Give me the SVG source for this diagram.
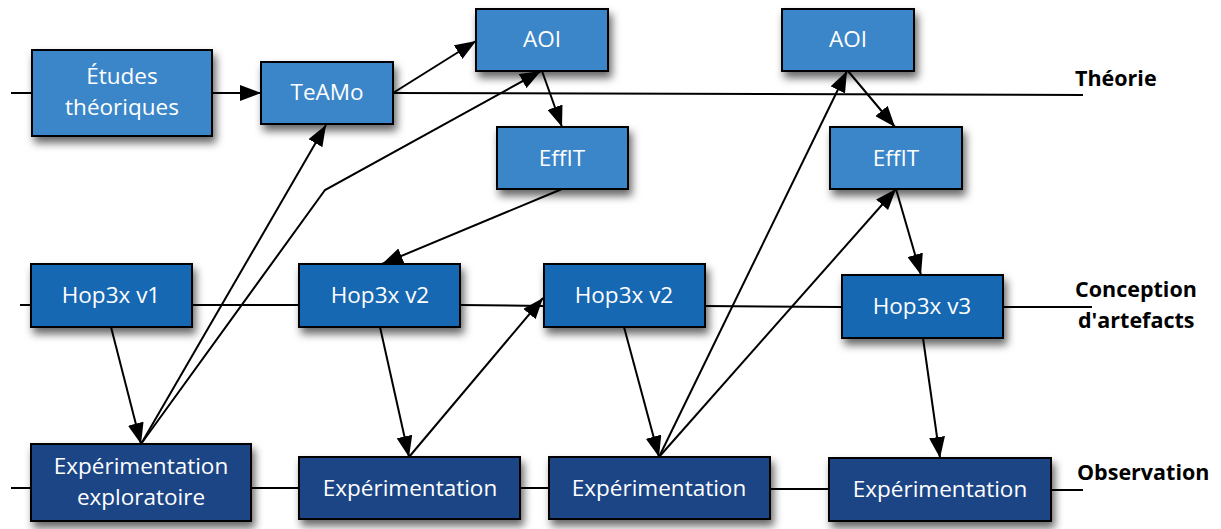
<svg xmlns="http://www.w3.org/2000/svg" width="1221" height="529" viewBox="0 0 1221 529">
<defs>
<filter id="sh" x="-20%" y="-30%" width="150%" height="180%">
<feDropShadow dx="3" dy="6" stdDeviation="4" flood-color="#000" flood-opacity="0.6"/>
</filter>
<marker id="ah" markerUnits="userSpaceOnUse" markerWidth="21" markerHeight="16" refX="21" refY="8" orient="auto">
<path d="M0,0 L21,8 L0,16 z" fill="#000"/>
</marker>
</defs>
<style>
.b1{fill:#3a86c8;stroke:#000;stroke-width:2;filter:url(#sh)}
.b2{fill:#1868b3;stroke:#000;stroke-width:2;filter:url(#sh)}
.b3{fill:#1a4586;stroke:#000;stroke-width:2;filter:url(#sh)}
.t{font-family:"Open Sans","Liberation Sans",sans-serif;font-size:22.5px;fill:#fff;text-anchor:middle}
.lab{font-family:"Open Sans","Liberation Sans",sans-serif;font-size:21.5px;font-weight:bold;fill:#000}
.ln{stroke:#000;stroke-width:2;fill:none}
.ar{stroke:#000;stroke-width:2;fill:none;marker-end:url(#ah)}
</style>
<rect width="1221" height="529" fill="#fff"/>

<g id="etudes"><rect class="b1" x="32" y="50" width="180" height="86"/><text class="t" x="122" y="84">Études</text><text class="t" x="122" y="115">théoriques</text></g>
<g id="teamo"><rect class="b1" x="261" y="62" width="132" height="62"/><text class="t" x="327" y="100">TeAMo</text></g>
<g id="aoi1"><rect class="b1" x="476" y="9" width="132" height="62"/><text class="t" x="542" y="47">AOI</text></g>
<g id="effit1"><rect class="b1" x="497" y="127" width="131" height="62"/><text class="t" x="562" y="166">EffIT</text></g>
<g id="aoi2"><rect class="b1" x="782" y="9" width="132" height="62"/><text class="t" x="848" y="47">AOI</text></g>
<g id="effit2"><rect class="b1" x="830" y="127" width="132" height="62"/><text class="t" x="896" y="166">EffIT</text></g>

<g id="hop1"><rect class="b2" x="31" y="264" width="161" height="63"/><text class="t" x="111" y="303">Hop3x v1</text></g>
<g id="hop2a"><rect class="b2" x="299" y="264" width="161" height="63"/><text class="t" x="380" y="303">Hop3x v2</text></g>
<g id="hop2b"><rect class="b2" x="544" y="264" width="161" height="63"/><text class="t" x="624" y="303">Hop3x v2</text></g>
<g id="hop3"><rect class="b2" x="842" y="275" width="161" height="63"/><text class="t" x="922" y="314">Hop3x v3</text></g>

<g id="exp0"><rect class="b3" x="31" y="444" width="220" height="77"/><text class="t" x="141" y="474">Expérimentation</text><text class="t" x="141" y="505">exploratoire</text></g>
<g id="exp1"><rect class="b3" x="299" y="457" width="221" height="62"/><text class="t" x="410" y="496">Expérimentation</text></g>
<g id="exp2"><rect class="b3" x="549" y="457" width="221" height="62"/><text class="t" x="659" y="496">Expérimentation</text></g>
<g id="exp3"><rect class="b3" x="829" y="458" width="222" height="63"/><text class="t" x="940" y="497">Expérimentation</text></g>

<g id="labels">
<text class="lab" x="1075" y="86">Théorie</text>
<text class="lab" x="1075" y="297">Conception</text>
<text class="lab" x="1078" y="328">d'artefacts</text>
<text class="lab" x="1077" y="480">Observation</text>
</g>

<g id="connectors">
<line class="ln" x1="11" y1="93" x2="32" y2="93"/>
<line class="ln" x1="393" y1="93" x2="1083" y2="95"/>
<line class="ln" x1="20" y1="305" x2="31" y2="305"/>
<line class="ln" x1="192" y1="305" x2="299" y2="305"/>
<line class="ln" x1="460" y1="305" x2="544" y2="306"/>
<line class="ln" x1="705" y1="306" x2="842" y2="307"/>
<line class="ln" x1="1003" y1="307" x2="1092" y2="307"/>
<line class="ln" x1="11" y1="488" x2="31" y2="488"/>
<line class="ln" x1="251" y1="488" x2="299" y2="488"/>
<line class="ln" x1="520" y1="488" x2="549" y2="488"/>
<line class="ln" x1="770" y1="489" x2="829" y2="489"/>
<line class="ln" x1="1051" y1="490" x2="1083" y2="490"/>

<path class="ar" d="M212,93 L261,93"/>
<path class="ar" d="M393,93 L476,41"/>
<path class="ar" d="M141,444 L326,125"/>
<path class="ar" d="M141,444 L325,190 L541,71"/>
<path class="ar" d="M542,71 L562,127"/>
<path class="ar" d="M562,189 L382,264"/>
<path class="ar" d="M111,327 L141,444"/>
<path class="ar" d="M380,327 L409,457"/>
<path class="ar" d="M409,457 L543,298"/>
<path class="ar" d="M624,327 L659,457"/>
<path class="ar" d="M659,457 L847,71"/>
<path class="ar" d="M659,457 L896,189"/>
<path class="ar" d="M848,71 L895,127"/>
<path class="ar" d="M896,189 L921,275"/>
<path class="ar" d="M923,338 L940,458"/>
</g>
</svg>
